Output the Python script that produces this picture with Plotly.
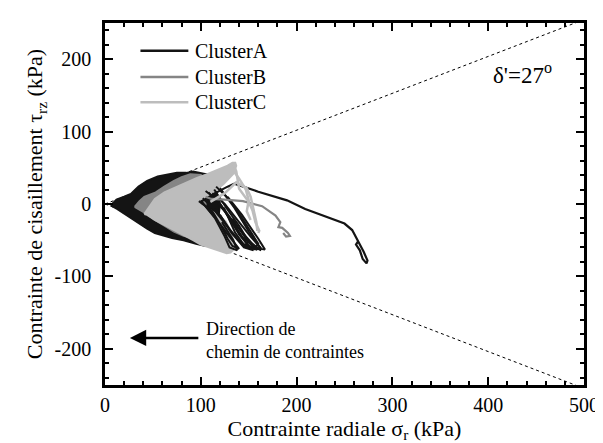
import numpy as np
import plotly.graph_objects as go

# --- data (kPa) ---
x_ticks = [0, 100, 200, 300, 400, 500]
x_ticklabels = ["0", "100", "200", "300", "400", "500"]
y_ticks = [-200, -100, 0, 100, 200]
y_ticklabels = ["-200", "-100", "0", "100", "200"]

# envelopes of the dense cyclic stress paths
clusterA_env_x = [6, 12, 20, 27, 35, 44, 55, 65, 75, 85, 92, 110, 120, 115, 105, 95, 82, 70, 62, 52, 44, 35, 25, 13, 6]
clusterA_env_y = [-2, 6, 10, 14, 24, 32, 38, 41, 43, 43, 45, 40, 0, -58, -58, -55, -50, -47, -44, -40, -34, -26, -17, -7, -2]

clusterB_env_x = [31, 36, 41, 47, 53, 62, 72, 80, 89, 100, 105, 100, 92, 82, 72, 62, 52, 44, 37, 31]
clusterB_env_y = [-4, 4, 10, 13, 16, 24, 32, 37, 41, 40, 0, -48, -47, -44, -38, -30, -22, -14, -9, -4]

clusterC_env_x = [41, 46, 52, 62, 75, 85, 96, 106, 118, 128, 133, 136, 137, 134, 124, 112, 104, 98, 104, 109,
                  118, 126, 130, 134, 135, 131, 127, 120, 110, 100, 92, 82, 72, 62, 52, 44, 41]
clusterC_env_y = [-14, -4, 7, 16, 24, 30, 36, 41, 47, 53, 57, 57, 53, 42, 28, 15, 6, 0, -5, -8,
                  -15, -24, -35, -50, -62, -67, -68, -65, -61, -56, -50, -43, -37, -30, -22, -15, -14]

# single paths leaving the cloud
clusterA_loops_x = [105, 118, 130, 140, 150, 158, 162, 152, 140, 125, 112, None,
                    110, 125, 138, 148, 155, 145, 132, 120, None,
                    100, 115, 125, 130, 138, 134, 122, None,
                    120, 135, 150, 163, 167, 160, 143, 128, None,
                    114, 128, 140, 150, 146, 136, 124, None,
                    102, 118, 132, 144, 152, 141, 127, 112, None,
                    108, 122, 134, 143, 157, 163, 154, 137, 119, None,
                    98, 112, 121, 128, 133, 140, 130, 117, 104, None,
                    116, 130, 141, 152, 160, 156, 147, 133]
clusterA_loops_y = [18, 5, -20, -42, -58, -63, -60, -45, -25, 0, 15, None,
                    12, -10, -35, -55, -64, -60, -40, -15, None,
                    5, -20, -45, -60, -64, -50, -25, None,
                    22, -5, -38, -62, -63, -48, -15, 10, None,
                    20, -8, -30, -52, -58, -40, -5, None,
                    8, -12, -38, -57, -62, -52, -30, -5, None,
                    16, -4, -28, -46, -60, -64, -55, -30, 2, None,
                    4, -10, -30, -48, -58, -62, -45, -22, -2, None,
                    24, 6, -15, -38, -55, -62, -48, -20]
clusterA_tail_x = [100, 115, 128, 135, 160, 190, 209, 230, 250, 258, 262, 266, 270, 274, 273, 269, 266, 262, 264]
clusterA_tail_y = [3, 15, 24, 28, 17, 5, -7, -17, -27, -36, -47, -56, -66, -78, -82, -76, -64, -56, -52]

clusterB_tail_x = [105, 111, 125, 144, 164, 178, 183, 181, 185, 188, 191, 193, 189, 186]
clusterB_tail_y = [10, 7, 6, 4, -3, -16, -25, -32, -33, -36, -40, -44, -45, -40]

clusterC_tail_x = [134, 137, 140, 146, 150, 154, 157, 161, 160, None,
                   110, 125, 137, 148, 152, 155, 158, 159, None,
                   132, 140, 147, 150, 148, 152]
clusterC_tail_y = [55, 45, 21, 10, 3, -9, -25, -37, -40, None,
                   3, 15, 30, 22, 10, -8, -25, -37, None,
                   50, 35, 20, 5, -10, -22]

envelope_x = [0, 500]
delta_deg = 27

colors = {"ClusterA": "#141414", "ClusterB": "#858585", "ClusterC": "#bdbdbd"}
FONT = "Liberation Serif"

fig = go.Figure()

# failure envelope (dashed)
slope = np.tan(np.radians(delta_deg))
for sgn in (1, -1):
    fig.add_trace(go.Scatter(x=envelope_x, y=[sgn * slope * v for v in envelope_x], mode="lines",
                             line=dict(color="black", width=1, dash="3px,3px"),
                             showlegend=False, hoverinfo="skip"))

# clouds
for name, ex, ey in [("ClusterA", clusterA_env_x, clusterA_env_y),
                     ("ClusterB", clusterB_env_x, clusterB_env_y),
                     ("ClusterC", clusterC_env_x, clusterC_env_y)]:
    fig.add_trace(go.Scatter(x=ex, y=ey, mode="lines", fill="toself", fillcolor=colors[name],
                             line=dict(color=colors[name], width=2), showlegend=False, hoverinfo="skip"))

# tails
fig.add_trace(go.Scatter(x=clusterA_loops_x, y=clusterA_loops_y, mode="lines",
                         line=dict(color=colors["ClusterA"], width=2), showlegend=False))
fig.add_trace(go.Scatter(x=clusterA_tail_x, y=clusterA_tail_y, mode="lines",
                         line=dict(color=colors["ClusterA"], width=2.2), showlegend=False))
fig.add_trace(go.Scatter(x=clusterB_tail_x, y=clusterB_tail_y, mode="lines",
                         line=dict(color=colors["ClusterB"], width=2.2), showlegend=False))
fig.add_trace(go.Scatter(x=clusterC_tail_x, y=clusterC_tail_y, mode="lines",
                         line=dict(color=colors["ClusterC"], width=2.5), showlegend=False))

# legend drawn by hand (longer line samples, like the original)
legend_rows = [0.923, 0.851, 0.781]
for name, yr in zip(colors, legend_rows):
    fig.add_shape(type="line", xref="paper", yref="paper", x0=0.074, x1=0.174, y0=yr, y1=yr,
                  line=dict(color=colors[name], width=2.5))
    fig.add_annotation(xref="paper", yref="paper", x=0.184, y=yr, text=name, showarrow=False,
                       xanchor="left", yanchor="middle", font=dict(family=FONT, size=20, color="black"))

fig.add_annotation(x=436, y=180, text="δ'=27<sup>o</sup>", showarrow=False,
                   font=dict(family=FONT, size=23, color="black"))
fig.add_annotation(x=26, y=-185, ax=99, ay=-185, axref="x", ayref="y", text="",
                   showarrow=True, arrowhead=2, arrowsize=1.3, arrowwidth=2.5, arrowcolor="black")
fig.add_annotation(x=103, y=-188, text="Direction de<br>chemin de contraintes", showarrow=False,
                   xanchor="left", align="left", font=dict(family=FONT, size=18, color="black"))

axis_common = dict(showline=True, linewidth=2.5, linecolor="black", mirror="allticks",
                   ticks="inside", ticklen=8, tickwidth=1.5, tickcolor="black",
                   showgrid=False, zeroline=False,
                   tickfont=dict(family=FONT, size=20, color="black"),
                   minor=dict(ticks="inside", ticklen=4, tickwidth=1.5, tickcolor="black"))

fig.update_layout(
    width=603, height=443,
    margin=dict(l=97, r=19, t=15, b=66),
    paper_bgcolor="white", plot_bgcolor="white",
    font=dict(family=FONT, color="black"),
    showlegend=False,
    xaxis=dict(range=[0, 500], tickmode="array", tickvals=x_ticks, ticktext=x_ticklabels,
               minor=dict(dtick=20),
               title=dict(text="Contrainte radiale σ<sub>r</sub> (kPa)", font=dict(size=22), standoff=4),
               **{k: v for k, v in axis_common.items() if k != "minor"}),
    yaxis=dict(range=[-250, 250], tickmode="array", tickvals=y_ticks, ticktext=y_ticklabels,
               minor=dict(dtick=20),
               title=dict(text="Contrainte de cisaillement τ<sub>rz</sub> (kPa)", font=dict(size=22), standoff=6),
               ticklabelstandoff=7,
               **{k: v for k, v in axis_common.items() if k != "minor"}),
)
fig.update_xaxes(minor=dict(ticks="inside", ticklen=4, tickwidth=1.5, tickcolor="black", tick0=0, dtick=20))
fig.update_yaxes(minor=dict(ticks="inside", ticklen=4, tickwidth=1.5, tickcolor="black", tick0=0, dtick=20))

fig.write_html("out.html")
